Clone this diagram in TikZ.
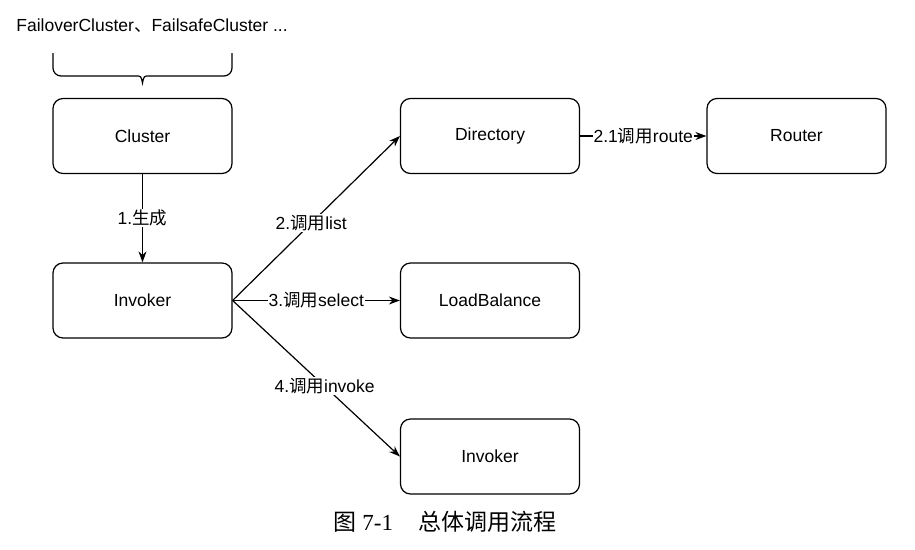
\documentclass[tikz,border=0pt]{standalone}
\usepackage{fontspec}
\setmainfont{Liberation Sans}
\newfontfamily\cjk{Noto Sans CJK SC}
\newfontfamily\capserif{Liberation Serif}
\usetikzlibrary{arrows.meta}

\begin{document}
\begin{tikzpicture}[x=1pt,y=-1pt,line width=1.2pt]
            \useasboundingbox (0,0) rectangle (915,549);

            \node (family) at (152,26) {\fontsize{17.5}{20}\selectfont FailoverCluster{\cjk 、}FailsafeCluster ...};

            % brace over the cluster implementations
            \draw[rounded corners=8] (53,53) -- (53,76) -- (136,76);
            \draw (136,76) .. controls (141,76) .. (142.5,83) .. controls (144,76) .. (149,76);
            \draw[rounded corners=8] (149,76) -- (232,76) -- (232,53);

            \begin{scope}[every node/.style={draw, rounded corners=10, minimum width=179, minimum height=75,
                          font=\fontsize{17.5}{20}\selectfont}]
                \node (cluster) at (142.5,136) {Cluster};
                \node (invoker) at (142.5,300.5) {Invoker};
                \node (directory) at (490,136) {Directory};
                \node (router) at (796.5,136) {Router};
                \node (balance) at (490,300.5) {LoadBalance};
                \node (invoker2) at (490,456.5) {Invoker};
            \end{scope}

            \begin{scope}[>={Stealth[length=11pt,width=8pt]},
                          every node/.style={fill=white, inner sep=1pt, font=\fontsize{17.5}{20}\selectfont},
                          every edge/.style={draw=black, line width=1.2pt}]
                \path [->] (cluster) edge node {1.{\cjk 生成}} (invoker);
                \path [->] (invoker.east) edge node[pos=0.47] {2.{\cjk 调用}list} (directory.west);
                \path [->] (invoker.east) edge node {3.{\cjk 调用}select} (balance.west);
                \path [->] (invoker.east) edge node[pos=0.55] {4.{\cjk 调用}invoke} (invoker2.west);
                \path [->] (directory) edge node {2.1{\cjk 调用}route} (router);
            \end{scope}

            \node (caption) at (445,522) {\capserif\fontsize{23}{25}\selectfont {\cjk 图} 7-1\hspace{1.1em}{\cjk 总体调用流程}};
        \end{tikzpicture}
\end{document}
